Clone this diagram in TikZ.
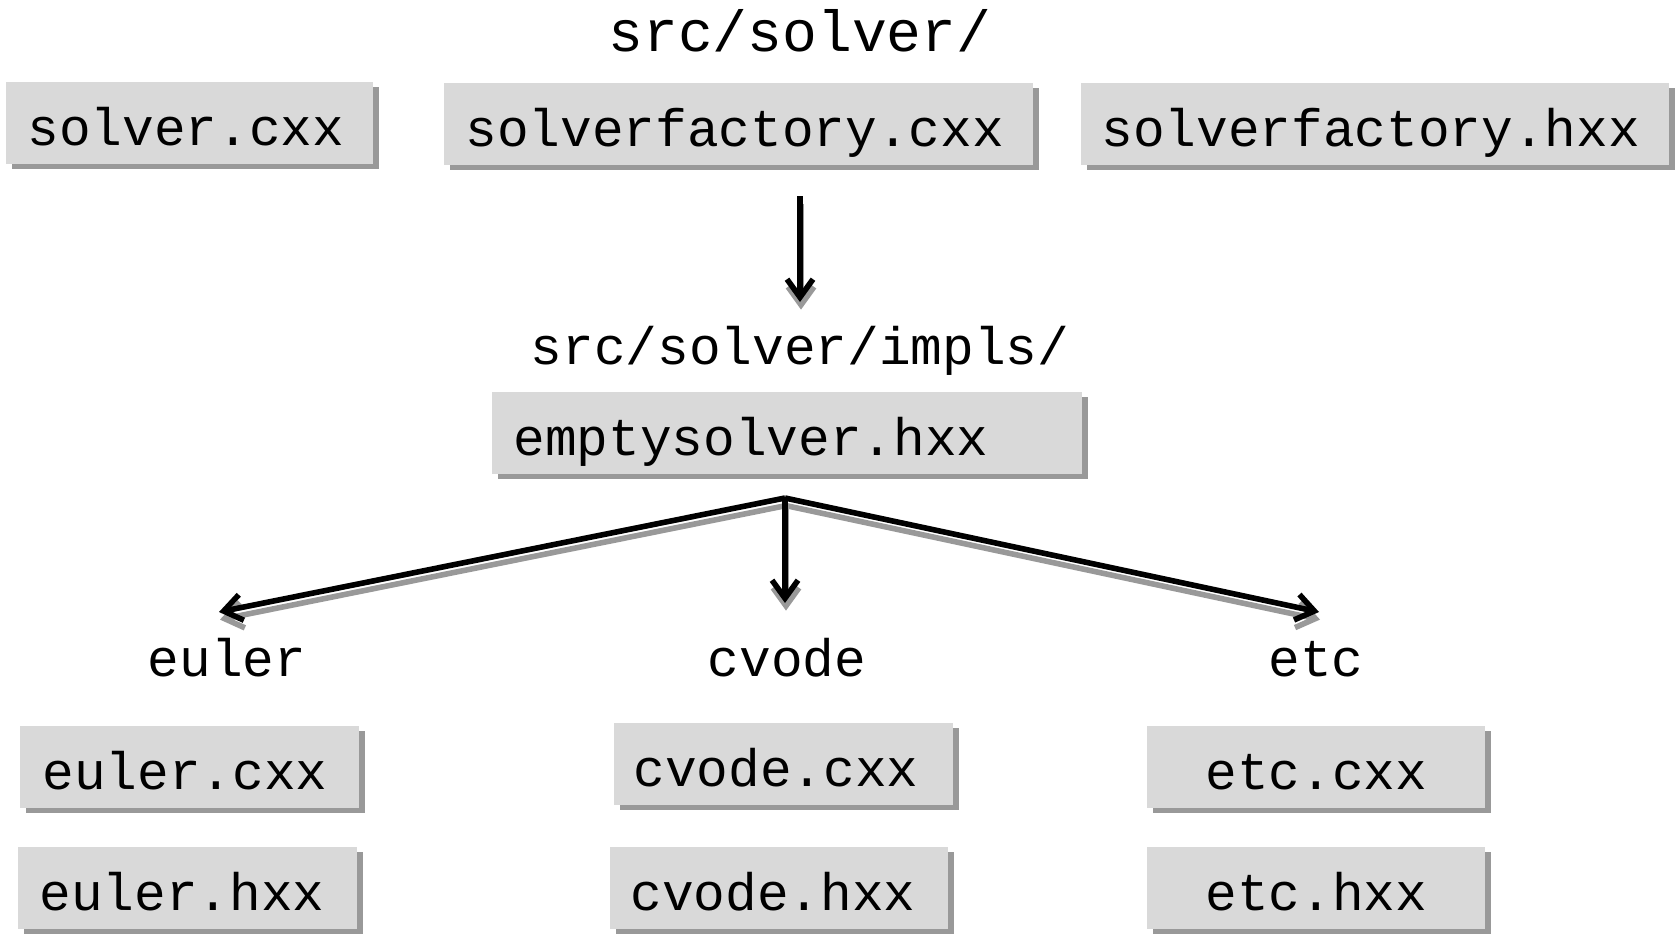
\documentclass[tikz,border=0pt]{standalone}
\usepackage{fontspec}
\setmainfont{Liberation Mono}
\usetikzlibrary{arrows.meta,shadows}
\definecolor{boxgray}{RGB}{217,217,217}
\definecolor{shadowgray}{RGB}{153,153,153}
\begin{document}
\begin{tikzpicture}[x=0.5pt,y=-0.5pt,
  every node/.style={font=\fontsize{26.4pt}{30pt}\selectfont},
  fbox/.style={anchor=north west, fill=boxgray, inner ysep=0pt,
    text height=31.5pt, text depth=9.5pt, align=left,
    general shadow={fill=shadowgray, shadow xshift=3pt, shadow yshift=-2.5pt}},
  lbl/.style={anchor=base, inner sep=0pt},
  arr/.style={line width=2.8pt, -{Straight Barb[length=9pt,width=13pt]}},
  arrshadow/.style={arr, draw=shadowgray}
]
\useasboundingbox (0,0) rectangle (1675,933);
% labels
\node[lbl, font=\fontsize{29pt}{33pt}\selectfont] (srcsolver) at (800,51) {src/solver/};
\node[lbl] (impls) at (800,364) {src/solver/impls/};
\node[lbl] (euler) at (227,676) {euler};
\node[lbl] (cvode) at (787,676) {cvode};
\node[lbl] (etc) at (1316,676) {etc};
% boxes
\node[fbox, inner xsep=10.5pt, text width=162.5pt] (solvercxx) at (6,82) {solver.cxx};
\node[fbox, inner xsep=10.5pt, text width=273.5pt] (sfcxx) at (444,83) {solverfactory.cxx};
\node[fbox, inner xsep=10pt, text width=274pt] (sfhxx) at (1081,83) {solverfactory.hxx};
\node[fbox, inner xsep=10.5pt, text width=274pt] (empty) at (492,392) {emptysolver.hxx};
\node[fbox, inner xsep=11pt, text width=147.5pt] (eulercxx) at (20,726) {euler.cxx};
\node[fbox, inner xsep=10.5pt, text width=148.5pt] (eulerhxx) at (18,847) {euler.hxx};
\node[fbox, inner xsep=9.5pt, text width=150.5pt] (cvodecxx) at (614,723) {cvode.cxx};
\node[fbox, inner xsep=10pt, text width=149pt] (cvodehxx) at (610,847) {cvode.hxx};
\node[fbox, inner xsep=29pt, text width=111pt] (etccxx) at (1147,726) {etc.cxx};
\node[fbox, inner xsep=29pt, text width=111pt] (etchxx) at (1147,847) {etc.hxx};
% connector points
\coordinate (topa) at (800,196);
\coordinate (topb) at (800,302);
\coordinate (fan) at (785,498);
\coordinate (tipl) at (219,612);
\coordinate (tipm) at (785,603);
\coordinate (tipr) at (1319,612);
% shadows
\begin{scope}[transform canvas={xshift=0.5pt, yshift=-3.8pt}]
\draw[arrshadow] (topa) -- (topb);
\draw[arrshadow] (fan) -- (tipl);
\draw[arrshadow] (fan) -- (tipm);
\draw[arrshadow] (fan) -- (tipr);
\end{scope}
% arrows
\draw[arr] (topa) -- (topb);
\draw[arr] (fan) -- (tipl);
\draw[arr] (fan) -- (tipm);
\draw[arr] (fan) -- (tipr);
\end{tikzpicture}
\end{document}
